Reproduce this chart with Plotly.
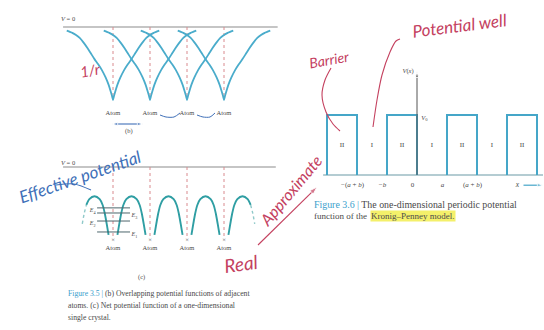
import plotly.graph_objects as go

W, H = 544, 330

# ---------------- data ----------------
atom_x = [0, 1, 2, 3]
atom_labels = ["Atom", "Atom", "Atom", "Atom"]

# (b) potential of one isolated atom vs distance from nucleus (lattice units), V=0 far away
single_r = [0.0, 0.03, 0.07, 0.12, 0.2, 0.3, 0.4, 0.5, 0.6, 0.7, 0.8, 0.9, 1.0, 1.1, 1.25]
single_v = [-1.0, -0.94, -0.87, -0.79, -0.69, -0.59, -0.51, -0.44, -0.36, -0.28, -0.21,
            -0.15, -0.11, -0.08, -0.05]

# (c) net potential inside one cell: fraction of the cell -> V
net_u = [0.12, 0.17, 0.22, 0.28, 0.36, 0.5, 0.64, 0.72, 0.78, 0.83, 0.88]
net_v = [-0.93, -0.78, -0.64, -0.52, -0.44, -0.40, -0.44, -0.52, -0.64, -0.78, -0.93]
net_cells = [-1, 0, 1, 2, 3]
net_solid = {-1: (3, 11), 0: (0, 11), 1: (0, 11), 2: (0, 11), 3: (0, 8)}
net_dotted = {-1: (1, 4), 3: (7, 10)}

# (c) discrete energy levels in the first well
level_names = ["<i>E</i><sub>1</sub>", "<i>E</i><sub>2</sub>", "<i>E</i><sub>3</sub>", "<i>E</i><sub>4</sub>"]
level_v = [-0.89, -0.74, -0.63, -0.56]
level_span = [-0.43, 0.46]
level_label_side = [1, -1, 1, -1]

# Kronig-Penney model (a = b)
kp_a, kp_b, kp_V0 = 1.0, 1.0, 1.0
kp_barrier_left = [-3, -1, 1, 3]
kp_well_centers = [-1.5, 0.5, 2.5]
kp_axis_span = [-3.13, 4.2]
kp_vaxis_top = 1.72
kp_xarrow = [3.55, 4.2]
kp_tick_x = [-2, -1, 0, 1, 2]
kp_tick_text = ["\u2212(<i>a</i> + <i>b</i>)", "\u2212<i>b</i>", "0", "<i>a</i>", "(<i>a</i> + <i>b</i>)"]

# captions
cap35 = ["(b) Overlapping potential functions of adjacent",
         "atoms. (c) Net potential function of a one-dimensional",
         "single crystal."]
cap36 = ["The one-dimensional periodic potential", "function of the ", "Kronig\u2013Penney model."]

# handwritten notes (pixel positions on the slide)
hw_well_ptr = ([400, 396, 390, 382, 377, 373], [39, 41, 52, 75, 100, 127])
hw_barrier_ptr = ([331, 325, 322, 326, 333, 340], [68, 80, 95, 112, 124, 131])
hw_eff_line = ([56, 74, 91], [185, 184, 190])
hw_link1 = ([160, 166, 174, 180], [115, 117, 117, 113])
hw_link2 = ([197, 203, 210, 215], [115, 117, 117, 113])
hw_approx_arrow = ([258, 317], [245, 187])
hw_double_arrow = ([127, 112], [124, 124], [127, 143], [124, 124])

# ---------------- colours / fonts ----------------
C_B = "#4aaccb"
C_C = "#2f9ea3"
C_DOT = "#d98a8e"
C_AX = "#8c8c8c"
C_BOX = "#45a6c8"
C_LVL = "#4d666c"
C_TXT = "#4a4a4a"
C_RED = "#c4415f"
C_BLUE = "#4070b8"
SERIF = "Liberation Serif"
HAND = "Lato"

fig = go.Figure()


def axes_box(px0, px1, py0, py1, ox, sx, oy, sy):
    xa = dict(domain=[px0 / W, px1 / W], range=[(px0 - ox) / sx, (px1 - ox) / sx], visible=False)
    ya = dict(domain=[1 - py1 / H, 1 - py0 / H], range=[(oy - py1) / sy, (oy - py0) / sy], visible=False)
    return xa, ya


def P(px, py):
    return px / W, 1 - py / H


xb, yb = axes_box(55, 285, 10, 140, 113, 37, 27, 73)
xc, yc = axes_box(55, 285, 150, 285, 113, 37, 167, 73)
xk, yk = axes_box(300, 544, 55, 195, 417, 30, 175, 60)
xo = dict(domain=[0, 1], range=[0, W], visible=False)
yo = dict(domain=[0, 1], range=[H, 0], visible=False)


def line(x, y, xa, ya, color, width=1.2, dash="solid", shape="linear", smoothing=0.8):
    fig.add_trace(go.Scatter(x=x, y=y, xaxis=xa, yaxis=ya, mode="lines", hoverinfo="skip",
                             line=dict(color=color, width=width, dash=dash, shape=shape, smoothing=smoothing),
                             showlegend=False))


def arrow(x, y, xa, ya, color, width=1.1, size=7):
    fig.add_trace(go.Scatter(x=x, y=y, xaxis=xa, yaxis=ya, mode="lines+markers", hoverinfo="skip",
                             line=dict(color=color, width=width),
                             marker=dict(symbol="arrow", size=[0, size], angleref="previous", color=color),
                             showlegend=False, cliponaxis=False))


def text(x, y, s, xa, ya, size=7, color=C_TXT, family=SERIF):
    fig.add_trace(go.Scatter(x=x, y=y, xaxis=xa, yaxis=ya, mode="text", text=s, hoverinfo="skip",
                             textfont=dict(family=family, size=size, color=color), showlegend=False,
                             cliponaxis=False))


# ---------- (b) overlapping atomic potentials ----------
line([-1.35, 4.45], [0, 0], "x", "y", C_AX, 1.2)
for xa_ in atom_x:
    line([xa_, xa_], [0, -0.98], "x", "y", C_DOT, 1, "dot")
for xa_ in atom_x:
    xs = [xa_ - r for r in reversed(single_r[1:])] + [xa_ + r for r in single_r]
    vs = list(reversed(single_v[1:])) + single_v
    line(xs, vs, "x", "y", C_B, 1.8, shape="spline", smoothing=0.6)
text(atom_x, [-1.18] * 4, atom_labels, "x", "y", 6.5)

# ---------- (c) net potential ----------
line([-1.35, 4.4], [0, 0], "x2", "y2", C_AX, 1.2)
for xa_ in atom_x:
    line([xa_, xa_], [0, -0.97], "x2", "y2", C_DOT, 1, "dot")
for cell in net_cells:
    i0, i1 = net_solid[cell]
    line([cell + u for u in net_u[i0:i1]], net_v[i0:i1], "x2", "y2", C_C, 1.9, shape="spline")
    if cell in net_dotted:
        j0, j1 = net_dotted[cell]
        line([cell + u for u in net_u[j0:j1]], net_v[j0:j1], "x2", "y2", "#8fc9c9", 1.4, "dot", "spline")
for name, v, side in zip(level_names, level_v, level_label_side):
    line(level_span, [v, v], "x2", "y2", C_LVL, 1.0)
    text([0.58 if side > 0 else -0.55], [v - 0.04], [name], "x2", "y2", 6)
text(atom_x, [-1.0] * 4, ["\u00d7"] * 4, "x2", "y2", 6.5)
text(atom_x, [-1.12] * 4, atom_labels, "x2", "y2", 6.5)

# ---------- Kronig-Penney ----------
line(kp_axis_span, [0, 0], "x3", "y3", "#6a9aa6", 1.2)
for xl in kp_barrier_left:
    line([xl, xl, xl + kp_b, xl + kp_b], [0, kp_V0, kp_V0, 0], "x3", "y3", C_BOX, 2.0)
arrow([0, 0], [0, kp_vaxis_top], "x3", "y3", "#555555", 1.0, 6)
text([xl + kp_b / 2 for xl in kp_barrier_left], [kp_V0 / 2] * 4, ["II"] * 4, "x3", "y3", 7)
text(kp_well_centers, [kp_V0 / 2] * 3, ["I"] * 3, "x3", "y3", 7)
text([t - 0.15 for t in kp_tick_x], [-0.17] * 5, kp_tick_text, "x3", "y3", 7)
text([3.35], [-0.17], ["<i>x</i>"], "x3", "y3", 7.5)
arrow(kp_xarrow, [-0.17, -0.17], "x3", "y3", C_BOX, 1.2, 6)
text([-0.3], [kp_vaxis_top], ["<i>V</i>(<i>x</i>)"], "x3", "y3", 6.5)
text([0.25], [0.95], ["<i>V</i><sub>0</sub>"], "x3", "y3", 6.5)

# ---------- handwritten overlay ----------
line(*hw_well_ptr, "x4", "y4", C_RED, 1.1, shape="spline")
line(*hw_barrier_ptr, "x4", "y4", C_RED, 1.1, shape="spline")
line(*hw_eff_line, "x4", "y4", C_BLUE, 1.1, shape="spline")
line(*hw_link1, "x4", "y4", C_BLUE, 1.0, shape="spline")
line(*hw_link2, "x4", "y4", C_BLUE, 1.0, shape="spline")
arrow(*hw_approx_arrow, "x4", "y4", C_RED, 1.1, 8)
arrow(hw_double_arrow[0], hw_double_arrow[1], "x4", "y4", C_BLUE, 1.1, 6)
arrow(hw_double_arrow[2], hw_double_arrow[3], "x4", "y4", C_BLUE, 1.1, 6)

ann = []


def note(px, py, s, size, color, angle=0, family=HAND, italic=True, anchor="center", bg=None):
    x, y = P(px, py)
    d = dict(x=x, y=y, xref="paper", yref="paper", text=s, showarrow=False, textangle=angle,
             xanchor=anchor, yanchor="middle", borderpad=0,
             font=dict(family=family, size=size, color=color, style="italic" if italic else "normal"))
    if bg:
        d["bgcolor"] = bg
    ann.append(d)


note(90, 70, "1/r", 15, C_RED, -10)
note(80, 176, "Effective potential", 17, C_BLUE, -19)
note(290, 190, "Approximate", 16, C_RED, -50)
note(241, 263, "Real", 19, C_RED, -8)
note(459, 25, "Potential well", 17, C_RED, -7)
note(329, 59, "Barrier", 14, C_RED, -10)

# printed labels
note(60, 18, "<i>V</i> = 0", 6.5, C_TXT, family=SERIF, italic=False, anchor="left")
note(60, 162, "<i>V</i> = 0", 6.5, C_TXT, family=SERIF, italic=False, anchor="left")
note(129, 131, "(b)", 6.5, C_TXT, family=SERIF, italic=False)
note(141, 277, "(c)", 6.5, C_TXT, family=SERIF, italic=False)

# captions
note(67, 293, "<span style='color:#3aa0cc'>Figure 3.5 |</span> " + cap35[0], 7.7, C_TXT,
     family=SERIF, italic=False, anchor="left")
note(67, 305, cap35[1], 7.7, C_TXT, family=SERIF, italic=False, anchor="left")
note(67, 317, cap35[2], 7.7, C_TXT, family=SERIF, italic=False, anchor="left")
note(313, 204, "<span style='color:#3aa0cc'>Figure 3.6 |</span> " + cap36[0], 9.9, C_TXT,
     family=SERIF, italic=False, anchor="left")
note(313, 216, cap36[1], 9, C_TXT, family=SERIF, italic=False, anchor="left")
note(370, 216, cap36[2], 9, C_TXT, family=SERIF, italic=False, anchor="left", bg="#f4f06a")

fig.update_layout(
    width=W, height=H, margin=dict(l=0, r=0, t=0, b=0),
    paper_bgcolor="white", plot_bgcolor="rgba(0,0,0,0)", showlegend=False,
    xaxis=xb, yaxis=yb, xaxis2=xc, yaxis2=yc, xaxis3=xk, yaxis3=yk,
    xaxis4=xo, yaxis4=yo, annotations=ann,
)
fig.write_html("out.html", config={"displayModeBar": False, "staticPlot": True},
               post_script="document.body.style.margin='0';document.body.style.overflow='hidden';")
